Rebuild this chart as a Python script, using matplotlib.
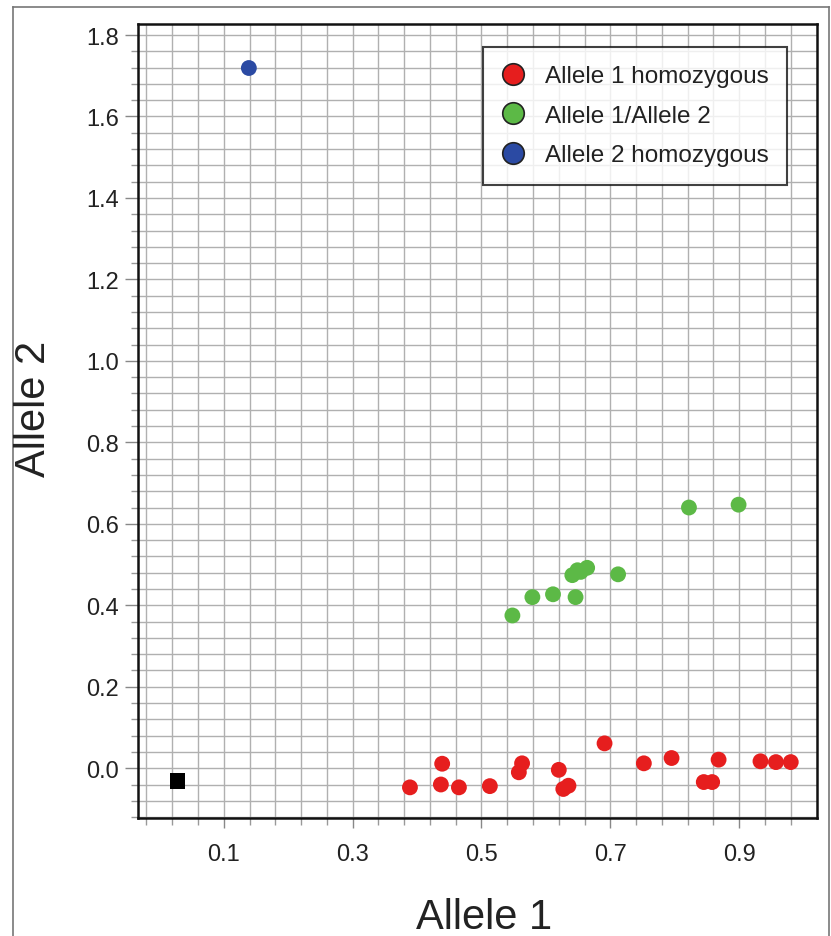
import numpy as np
import matplotlib

matplotlib.use("Agg")

import matplotlib.pyplot as plt
from matplotlib.lines import Line2D
from matplotlib.ticker import FixedLocator

plt.rcParams["font.family"] = ["Liberation Sans", "DejaVu Sans"]

# Data
allele1_hom_x = [0.389, 0.439, 0.437, 0.465, 0.513, 0.563, 0.558, 0.620, 0.635, 0.627,
                 0.691, 0.752, 0.795, 0.868, 0.845, 0.858, 0.933, 0.957, 0.980]
allele1_hom_y = [-0.047, 0.011, -0.040, -0.047, -0.044, 0.012, -0.010, -0.004, -0.043, -0.051,
                 0.061, 0.012, 0.025, 0.021, -0.034, -0.034, 0.017, 0.015, 0.015]

het_x = [0.548, 0.579, 0.611, 0.646, 0.641, 0.649, 0.654, 0.664, 0.712, 0.822, 0.899]
het_y = [0.375, 0.420, 0.427, 0.420, 0.474, 0.486, 0.482, 0.492, 0.476, 0.640, 0.647]

allele2_hom_x = [0.139]
allele2_hom_y = [1.719]

ntc_x = [0.028]
ntc_y = [-0.032]

labels = ["Allele 1 homozygous", "Allele 1/Allele 2", "Allele 2 homozygous"]
colors = ["#e61e1e", "#5cb946", "#2b4aa3"]

x_ticks = [0.1, 0.3, 0.5, 0.7, 0.9]
y_ticks = [0.0, 0.2, 0.4, 0.6, 0.8, 1.0, 1.2, 1.4, 1.6, 1.8]

fig = plt.figure(figsize=(8.31, 9.37), dpi=100)
ax = fig.add_axes([0.1661, 0.1256, 0.8165, 0.8477])

ax.set_xlim(-0.033, 1.02)
ax.set_ylim(-0.123, 1.827)

# grid every 0.04
x_grid = np.arange(-0.02, 1.02, 0.04)
y_grid = np.arange(-0.12, 1.83, 0.04)
ax.xaxis.set_major_locator(FixedLocator(x_ticks))
ax.yaxis.set_major_locator(FixedLocator(y_ticks))
ax.xaxis.set_minor_locator(FixedLocator(x_grid))
ax.yaxis.set_minor_locator(FixedLocator(y_grid))
ax.set_xticklabels([f"{v:.1f}" for v in x_ticks])
ax.set_yticklabels([f"{v:.1f}" for v in y_ticks])
ax.grid(True, which="both", color="#b0b0b0", linewidth=1.0)
ax.set_axisbelow(True)

ax.tick_params(which="major", length=9.4, width=1, color="#888888", labelsize=17,
               labelcolor="#222222", pad=4.5)
ax.tick_params(which="minor", length=5, width=1, color="#999999")
ax.tick_params(axis="x", which="major", length=7, pad=11)

for side in ["left", "bottom", "top", "right"]:
    ax.spines[side].set_color("#111111")
    ax.spines[side].set_linewidth(1.8)

ax.scatter(allele1_hom_x, allele1_hom_y, s=130, color=colors[0], edgecolors="none", zorder=3)
ax.scatter(het_x, het_y, s=130, color=colors[1], edgecolors="none", zorder=3)
ax.scatter(allele2_hom_x, allele2_hom_y, s=130, color=colors[2], edgecolors="none", zorder=3)
ax.scatter(ntc_x, ntc_y, s=125, marker="s", color="black", edgecolors="none", zorder=3)

handles = [Line2D([], [], linestyle="none", marker="o", markersize=15.5,
                  markerfacecolor=c, markeredgecolor="#222222", markeredgewidth=1.2)
           for c in colors]
leg = ax.legend(handles, labels, loc="upper right", bbox_to_anchor=(0.9565, 0.971),
                borderaxespad=0, fontsize=17.5, frameon=True, fancybox=False,
                edgecolor="#111111", labelspacing=0.72, handletextpad=0.8,
                borderpad=0.75, handlelength=1.0)
leg.get_frame().set_linewidth(1.5)
for t in leg.get_texts():
    t.set_color("#222222")

fig.text(484 / 831, 1 - 929 / 937, "Allele 1", fontsize=30, color="#222222",
         ha="center", va="baseline")
fig.text(34 / 831, 1 - 409 / 937, "Allele 2", fontsize=30, color="#222222",
         ha="center", va="center", rotation=90)

# outer frame of the figure
fig.add_artist(Line2D([13 / 831, 13 / 831], [0, 1 - 8 / 937], transform=fig.transFigure,
                      color="#777777", linewidth=1.2))
fig.add_artist(Line2D([13 / 831, 829 / 831], [1 - 8 / 937, 1 - 8 / 937],
                      transform=fig.transFigure, color="#777777", linewidth=1.2))
fig.add_artist(Line2D([829 / 831, 829 / 831], [0, 1 - 8 / 937], transform=fig.transFigure,
                      color="#777777", linewidth=1.2))

fig.savefig("out.png", dpi=100)
